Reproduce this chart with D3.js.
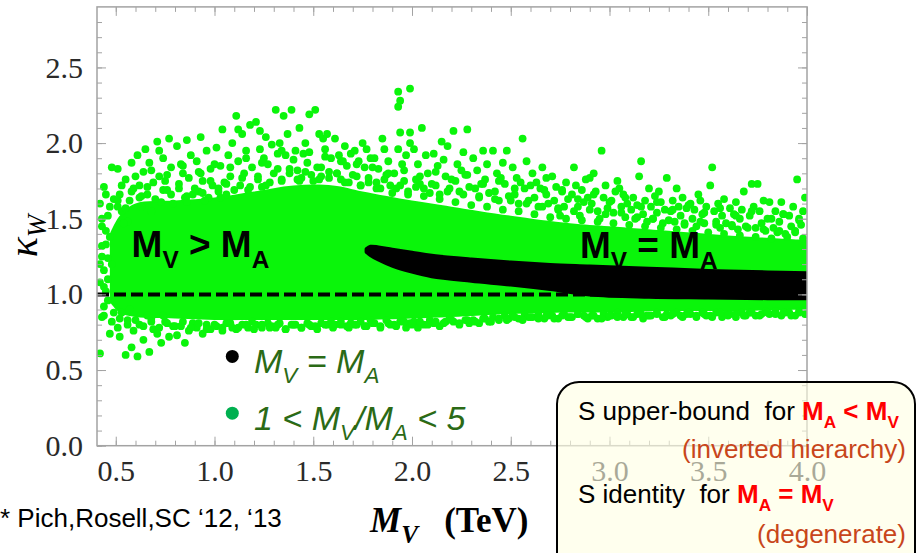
<!DOCTYPE html>
<html>
<head>
<meta charset="utf-8">
<script src="https://cdn.jsdelivr.net/npm/d3@7"></script>
<style>
  body { margin: 0; background: #fff; }
  svg { display: block; }
  text { white-space: pre; }
</style>
</head>
<body>
<div id="chart"></div>
<script>
// tick labels
const xTicks = [0.5, 1.0, 1.5, 2.0, 2.5, 3.0, 3.5, 4.0];
const yTicks = [0.0, 0.5, 1.0, 1.5, 2.0, 2.5];

// dense part of the 1 < MV/MA < 5 cloud (upper and lower edge)
const coreX  = [0.47, 0.52, 0.60, 0.80, 1.00, 1.20, 1.40, 1.60, 1.75, 2.00, 2.20, 2.50, 2.80, 3.00, 3.30, 3.60, 4.00];
const coreHi = [1.40, 1.52, 1.60, 1.62, 1.64, 1.68, 1.72, 1.72, 1.68, 1.62, 1.58, 1.52, 1.47, 1.45, 1.42, 1.39, 1.36];
const coreLo = [0.95, 0.88, 0.85, 0.84, 0.83, 0.83, 0.83, 0.83, 0.83, 0.84, 0.85, 0.87, 0.88, 0.88, 0.89, 0.89, 0.90];

// MV = MA points, a dense band
const bandX  = [1.77, 1.79, 1.83, 1.90, 2.00, 2.10, 2.30, 2.50, 2.70, 2.90, 3.20, 3.50, 3.80, 4.00];
const bandHi = [1.30, 1.315, 1.31, 1.295, 1.275, 1.255, 1.23, 1.21, 1.195, 1.185, 1.17, 1.155, 1.145, 1.14];
const bandLo = [1.28, 1.26, 1.23, 1.19, 1.15, 1.12, 1.09, 1.065, 1.035, 1.00, 0.985, 0.98, 0.975, 0.975];

// scattered green points, outer part of the cloud
const greenPts = [
  [0.42,1.60],[0.43,1.45],[0.44,1.71],[0.46,1.52],[0.47,1.38],[0.48,1.84],[0.49,1.63],[0.45,1.33],
  [0.42,0.61],[0.43,0.85],[0.44,0.92],[0.46,1.10],[0.47,0.74],[0.48,1.20],[0.49,0.88],[0.45,1.02],[0.43,1.25],
  [0.42,1.08],[0.44,1.16],[0.45,1.42],[0.46,0.96],[0.43,1.32],[0.42,1.20],[0.44,1.05],[0.46,1.24],
  [0.51,1.83],[0.52,1.66],[0.53,1.55],[0.55,1.76],[0.56,1.48],[0.57,1.62],[0.58,1.87],[0.59,1.70],[0.54,1.47],[0.51,1.58],
  [0.51,0.78],[0.52,0.72],[0.55,0.60],[0.56,0.83],[0.58,0.65],[0.53,0.88],[0.59,0.76],[0.57,0.90],
  [0.61,1.92],[0.62,1.72],[0.63,1.58],[0.64,1.81],[0.66,1.66],[0.67,1.87],[0.68,1.55],[0.69,1.74],[0.65,1.96],[0.63,1.65],
  [0.61,0.59],[0.62,0.80],[0.64,0.70],[0.66,0.86],[0.67,0.62],[0.69,0.77],[0.68,0.84],
  [0.71,2.01],[0.72,1.78],[0.73,1.61],[0.74,1.90],[0.76,1.69],[0.77,2.03],[0.78,1.84],[0.79,1.60],[0.75,1.75],[0.72,1.95],
  [0.71,0.74],[0.73,0.68],[0.75,0.82],[0.77,0.72],[0.79,0.79],[0.74,0.86],
  [0.81,1.98],[0.82,1.70],[0.83,1.86],[0.85,1.64],[0.86,2.02],[0.87,1.77],[0.88,1.92],[0.89,1.66],[0.84,1.80],[0.86,1.61],
  [0.81,0.73],[0.83,0.79],[0.85,0.68],[0.87,0.76],[0.89,0.81],
  [0.91,1.88],[0.92,1.68],[0.93,2.04],[0.94,1.75],[0.96,1.95],[0.97,1.64],[0.98,1.83],[0.99,1.72],[0.95,1.62],[0.93,1.80],
  [0.91,0.78],[0.94,0.74],[0.96,0.80],[0.98,0.77],
  [1.01,1.97],[1.02,1.70],[1.03,1.85],[1.04,2.09],[1.06,1.66],[1.07,1.92],[1.08,1.78],[1.09,2.00],[1.05,1.74],[1.03,1.64],
  [1.01,0.79],[1.04,0.76],[1.06,0.81],[1.09,0.78],
  [1.11,2.18],[1.12,1.88],[1.13,1.72],[1.14,2.06],[1.15,1.80],[1.16,1.95],[1.17,1.69],[1.18,2.12],[1.19,1.84],[1.12,2.09],
  [1.11,0.77],[1.14,0.80],[1.17,0.78],[1.19,0.82],
  [1.21,2.14],[1.22,1.78],[1.23,1.96],[1.24,1.71],[1.26,2.04],[1.27,1.86],[1.28,1.74],[1.29,1.99],[1.25,1.90],[1.23,2.08],
  [1.21,0.80],[1.24,0.78],[1.27,0.81],[1.29,0.79],
  [1.31,2.22],[1.32,1.83],[1.33,2.00],[1.34,1.76],[1.35,2.18],[1.36,1.92],[1.37,2.06],[1.38,1.80],[1.39,2.22],[1.34,1.95],
  [1.31,0.78],[1.33,0.81],[1.36,0.77],[1.39,0.80],
  [1.41,1.95],[1.42,1.82],[1.43,2.10],[1.44,1.77],[1.46,2.00],[1.47,1.87],[1.48,2.19],[1.49,1.79],[1.45,1.93],[1.43,1.75],
  [1.41,0.80],[1.44,0.78],[1.47,0.81],[1.49,0.79],
  [1.51,2.22],[1.52,1.84],[1.53,2.06],[1.54,1.78],[1.56,1.96],[1.57,2.06],[1.58,1.81],[1.59,1.90],[1.55,2.03],[1.53,1.76],
  [1.51,0.79],[1.54,0.81],[1.57,0.80],[1.59,0.82],
  [1.61,2.03],[1.62,1.80],[1.63,1.92],[1.64,1.76],[1.66,1.98],[1.67,1.85],[1.68,1.74],[1.69,1.93],[1.65,1.88],
  [1.61,0.80],[1.64,0.82],[1.67,0.79],[1.69,0.81],
  [1.71,1.95],[1.72,1.78],[1.73,1.88],[1.74,1.72],[1.76,1.84],[1.77,1.96],[1.78,1.74],[1.79,1.90],[1.75,2.00],
  [1.71,0.80],[1.74,0.82],[1.77,0.79],[1.79,0.83],
  [1.81,1.90],[1.82,1.74],[1.83,1.83],[1.84,1.70],[1.86,1.96],[1.87,1.79],[1.88,1.88],[1.89,1.72],[1.85,2.03],
  [1.81,0.81],[1.84,0.79],[1.87,0.83],[1.89,0.80],
  [1.93,2.34],[1.99,2.36],[1.93,2.24],[1.94,2.28],[1.94,2.07],[1.99,2.07],[1.99,2.00],[1.93,1.96],[1.91,1.80],[1.92,1.70],
  [1.95,1.86],[1.96,1.75],[1.97,1.92],[1.98,1.68],
  [1.91,0.80],[1.94,0.82],[1.97,0.78],[1.99,0.81],
  [2.01,1.96],[2.02,1.76],[2.03,1.86],[2.05,2.10],[2.06,1.70],[2.07,1.92],[2.08,1.80],[2.09,1.67],[2.04,1.73],
  [2.01,0.82],[2.03,0.78],[2.06,0.80],[2.09,0.83],
  [2.11,1.93],[2.12,1.72],[2.13,1.85],[2.14,1.66],[2.16,1.89],[2.17,1.78],[2.18,1.98],[2.19,1.70],[2.15,2.01],
  [2.11,0.81],[2.14,0.79],[2.17,0.82],[2.19,0.84],
  [2.21,2.08],[2.22,1.75],[2.23,1.86],[2.24,1.68],[2.26,1.94],[2.27,1.79],[2.28,2.09],[2.29,1.71],[2.25,1.82],
  [2.21,0.82],[2.24,0.80],[2.27,0.83],[2.29,0.81],
  [2.31,1.90],[2.32,1.70],[2.33,1.82],[2.34,1.64],[2.36,1.95],[2.37,1.76],[2.38,1.86],[2.39,1.67],[2.35,1.73],
  [2.31,0.83],[2.34,0.81],[2.37,0.84],[2.39,0.82],
  [2.41,1.95],[2.42,1.68],[2.43,1.80],[2.44,1.62],[2.46,1.87],[2.47,1.73],[2.48,1.95],[2.49,1.65],[2.45,1.77],
  [2.41,0.85],[2.44,0.83],[2.47,0.86],[2.49,0.84],
  [2.51,1.84],[2.52,1.66],[2.53,1.77],[2.54,1.60],[2.56,2.03],[2.57,1.70],[2.58,1.88],[2.59,1.62],[2.55,1.74],
  [2.51,0.86],[2.54,0.84],[2.57,0.87],[2.59,0.85],
  [2.61,1.80],[2.62,1.64],[2.63,1.74],[2.64,1.58],[2.66,1.84],[2.67,1.69],[2.68,1.77],[2.69,1.60],[2.65,1.70],
  [2.61,0.85],[2.64,0.87],[2.67,0.84],[2.69,0.86],
  [2.71,1.78],[2.72,1.62],[2.73,1.71],[2.74,1.56],[2.76,1.68],[2.77,1.58],[2.78,1.74],[2.79,1.63],[2.75,1.52],
  [2.71,0.86],[2.74,0.84],[2.77,0.87],[2.79,0.85],
  [2.82,1.84],[2.81,1.66],[2.83,1.72],[2.84,1.58],[2.86,1.69],[2.87,1.61],[2.88,1.76],[2.85,1.52],[2.89,1.64],
  [2.81,0.85],[2.84,0.87],[2.87,0.86],[2.89,0.84],
  [2.90,1.77],[2.92,1.80],[2.96,1.95],[2.91,1.60],[2.93,1.68],[2.94,1.55],[2.97,1.64],[2.98,1.72],[2.99,1.57],[2.95,1.50],
  [2.91,0.86],[2.94,0.84],[2.97,0.87],[2.99,0.85],
  [3.04,1.75],[3.01,1.62],[3.02,1.54],[3.03,1.68],[3.06,1.58],[3.07,1.66],[3.08,1.51],[3.09,1.60],[3.05,1.70],
  [3.01,0.86],[3.04,0.88],[3.07,0.85],[3.09,0.87],
  [3.16,1.88],[3.15,1.78],[3.20,1.70],[3.11,1.56],[3.12,1.64],[3.13,1.50],[3.14,1.59],[3.17,1.53],[3.18,1.62],[3.19,1.48],
  [3.11,0.85],[3.14,0.87],[3.17,0.84],[3.19,0.86],
  [3.29,1.77],[3.21,1.58],[3.22,1.50],[3.23,1.65],[3.24,1.54],[3.26,1.61],[3.27,1.47],[3.28,1.56],[3.25,1.68],
  [3.21,0.86],[3.24,0.88],[3.27,0.85],[3.29,0.87],
  [3.34,1.70],[3.31,1.55],[3.32,1.62],[3.33,1.48],[3.35,1.58],[3.36,1.52],[3.37,1.64],[3.38,1.46],[3.39,1.57],
  [3.31,0.86],[3.34,0.88],[3.37,0.85],[3.39,0.87],
  [3.41,1.60],[3.42,1.50],[3.43,1.56],[3.44,1.45],[3.46,1.62],[3.47,1.53],[3.48,1.47],[3.49,1.58],[3.45,1.66],
  [3.41,0.87],[3.44,0.85],[3.47,0.88],[3.49,0.86],
  [3.52,1.84],[3.51,1.72],[3.53,1.55],[3.54,1.48],[3.55,1.60],[3.56,1.44],[3.57,1.52],[3.58,1.63],[3.59,1.47],
  [3.51,0.86],[3.54,0.88],[3.57,0.85],[3.59,0.87],
  [3.68,1.68],[3.61,1.57],[3.62,1.46],[3.63,1.53],[3.64,1.61],[3.65,1.43],[3.66,1.50],[3.67,1.56],[3.69,1.45],
  [3.61,0.87],[3.64,0.85],[3.67,0.88],[3.69,0.86],
  [3.72,1.73],[3.75,1.73],[3.71,1.52],[3.73,1.58],[3.74,1.44],[3.76,1.55],[3.77,1.47],[3.78,1.62],[3.79,1.42],
  [3.71,0.88],[3.74,0.86],[3.77,0.87],[3.79,0.89],
  [3.81,1.61],[3.87,1.61],[3.82,1.50],[3.83,1.44],[3.84,1.55],[3.85,1.41],[3.86,1.48],[3.88,1.53],[3.89,1.40],
  [3.81,0.87],[3.84,0.89],[3.87,0.86],[3.89,0.88],
  [3.95,1.76],[3.99,1.64],[3.91,1.52],[3.92,1.45],[3.93,1.58],[3.94,1.42],[3.96,1.50],[3.97,1.46],[3.98,1.55],
  [3.91,0.88],[3.94,0.86],[3.96,0.89],[3.99,0.87]
];

// green points just outside the dense part (upper and lower rim)
const greenRim = [
  [0.43,1.50],[0.47,1.58],[0.51,1.62],[0.55,1.57],[0.58,1.68],[0.62,1.64],[0.66,1.71],[0.70,1.63],[0.74,1.69],[0.78,1.66],
  [0.82,1.73],[0.86,1.65],[0.90,1.70],[0.94,1.67],[0.98,1.75],[1.02,1.68],[1.06,1.73],[1.10,1.69],[1.14,1.77],[1.18,1.71],
  [1.22,1.76],[1.26,1.72],[1.30,1.80],[1.34,1.75],[1.38,1.83],[1.42,1.76],[1.46,1.81],[1.50,1.75],[1.54,1.84],[1.58,1.77],
  [1.62,1.80],[1.66,1.74],[1.70,1.79],[1.74,1.72],[1.78,1.77],[1.82,1.70],[1.86,1.76],[1.90,1.67],[1.94,1.72],[1.98,1.66],
  [2.02,1.71],[2.06,1.65],[2.10,1.73],[2.14,1.63],[2.18,1.68],[2.22,1.61],[2.26,1.66],[2.30,1.59],[2.34,1.65],[2.38,1.58],
  [2.42,1.63],[2.46,1.56],[2.50,1.62],[2.54,1.55],[2.58,1.60],[2.62,1.53],[2.66,1.58],[2.70,1.51],[2.74,1.57],[2.78,1.50],
  [2.82,1.55],[2.86,1.49],[2.90,1.56],[2.94,1.48],[2.98,1.53],[3.02,1.47],[3.06,1.54],[3.10,1.46],[3.14,1.51],[3.18,1.45],
  [3.22,1.50],[3.26,1.44],[3.30,1.49],[3.34,1.43],[3.38,1.47],[3.42,1.42],[3.46,1.48],[3.50,1.41],[3.54,1.46],[3.58,1.40],
  [3.62,1.45],[3.66,1.39],[3.70,1.44],[3.74,1.38],[3.78,1.43],[3.82,1.37],[3.86,1.42],[3.90,1.38],[3.94,1.41],[3.98,1.37],
  [0.45,1.66],[0.53,1.72],[0.60,1.78],[0.68,1.82],[0.76,1.79],[0.84,1.85],[0.92,1.81],[1.00,1.86],[1.08,1.84],[1.16,1.90],
  [1.24,1.87],[1.32,1.93],[1.40,1.89],[1.48,1.94],[1.56,1.91],[1.64,1.88],[1.72,1.86],[1.80,1.84],[1.88,1.80],[1.96,1.82],
  [2.04,1.78],[2.12,1.81],[2.20,1.76],[2.28,1.79],[2.36,1.73],[2.44,1.75],[2.52,1.70],[2.60,1.72],[2.68,1.66],[2.76,1.69],
  [2.84,1.63],[2.92,1.66],[3.00,1.61],[3.08,1.64],[3.16,1.58],[3.24,1.61],[3.32,1.56],[3.40,1.59],[3.48,1.54],[3.56,1.57],
  [3.64,1.52],[3.72,1.55],[3.80,1.50],[3.88,1.53],[3.96,1.49],
  [0.44,0.86],[0.48,0.82],[0.52,0.84],[0.56,0.80],[0.60,0.83],[0.64,0.79],[0.68,0.82],[0.72,0.78],[0.76,0.81],[0.80,0.79],
  [0.84,0.82],[0.88,0.78],[0.92,0.81],[0.96,0.77],[1.00,0.80],[1.04,0.78],[1.08,0.81],[1.12,0.78],[1.16,0.80],[1.20,0.77],
  [1.24,0.80],[1.28,0.78],[1.32,0.80],[1.36,0.77],[1.40,0.80],[1.44,0.78],[1.48,0.80],[1.52,0.77],[1.56,0.80],[1.60,0.78],
  [1.64,0.80],[1.68,0.78],[1.72,0.80],[1.76,0.79],[1.80,0.81],[1.84,0.78],[1.88,0.81],[1.92,0.79],[1.96,0.82],[2.00,0.80],
  [2.04,0.82],[2.08,0.80],[2.12,0.82],[2.16,0.81],[2.20,0.83],[2.24,0.81],[2.28,0.83],[2.32,0.82],[2.36,0.84],[2.40,0.82],
  [2.44,0.84],[2.48,0.83],[2.52,0.85],[2.56,0.83],[2.60,0.85],[2.64,0.84],[2.68,0.86],[2.72,0.84],[2.76,0.86],[2.80,0.85],
  [2.84,0.87],[2.88,0.85],[2.92,0.86],[2.96,0.84],[3.00,0.86],[3.04,0.85],[3.08,0.87],[3.12,0.85],[3.16,0.87],[3.20,0.86],
  [3.24,0.87],[3.28,0.85],[3.32,0.87],[3.36,0.86],[3.40,0.88],[3.44,0.86],[3.48,0.87],[3.52,0.85],[3.56,0.88],[3.60,0.86],
  [3.64,0.87],[3.68,0.86],[3.72,0.88],[3.76,0.86],[3.80,0.88],[3.84,0.87],[3.88,0.88],[3.92,0.86],[3.96,0.88],[4.00,0.87]
];

const refLevel = 1.0;

const width = 917;
const height = 553;

const svg = d3.select("#chart")
    .append("svg")
    .attr("width", width)
    .attr("height", height);

const x = d3.scaleLinear().domain([0.405, 4.0]).range([97, 807]);
const y = d3.scaleLinear().domain([0, 2.9]).range([445.7, 6.9]);

const green = "#0af50a";
const frameColor = "#a3a3a3";

svg.append("defs").append("clipPath").attr("id", "plot")
  .append("rect")
    .attr("x", x.range()[0]).attr("y", y.range()[1])
    .attr("width", x.range()[1] - x.range()[0])
    .attr("height", y.range()[0] - y.range()[1]);

// text with subscripts
function rich(g, px, py, size, parts, subRatio = 0.66) {
  const t = g.append("text").attr("x", px).attr("y", py).style("font-size", size + "px");
  let down = 0;
  parts.forEach(p => {
    const shift = p.sub ? size * 0.3 : 0;
    const s = t.append("tspan").text(p.t).attr("dy", shift - down);
    down = shift;
    if (p.sub) s.style("font-size", (size * subRatio) + "px");
    if (p.fill) s.attr("fill", p.fill);
    if (p.bold) s.style("font-weight", "bold");
    if (p.italic) s.style("font-style", "italic");
  });
  return t;
}

function points(g) {
  g.attr("clip-path", "url(#plot)");

  const core = coreX.map((v, i) => [v, coreHi[i], coreLo[i]]);
  g.append("path")
    .datum(core)
    .attr("fill", green)
    .attr("d", d3.area()
      .x(d => x(d[0])).y0(d => y(d[2])).y1(d => y(d[1]))
      .curve(d3.curveCatmullRom));

  g.append("g")
    .attr("fill", green)
    .selectAll("circle")
    .data(greenPts.concat(greenRim))
    .join("circle")
      .attr("cx", d => x(d[0]))
      .attr("cy", d => y(d[1]))
      .attr("r", 3.9);

  g.append("line")
    .attr("x1", x.range()[0]).attr("x2", x.range()[1])
    .attr("y1", y(refLevel)).attr("y2", y(refLevel))
    .attr("stroke", "#000")
    .attr("stroke-width", 4)
    .attr("stroke-dasharray", "12 5");

  const band = bandX.map((v, i) => [v, bandHi[i], bandLo[i]]);
  g.append("path")
    .datum(band)
    .attr("fill", "#000")
    .attr("stroke", "#000")
    .attr("stroke-width", 4)
    .attr("stroke-linejoin", "round")
    .attr("d", d3.area()
      .x(d => x(d[0])).y0(d => y(d[2])).y1(d => y(d[1]))
      .curve(d3.curveCatmullRom));
}

function axes(g) {
  const minorX = d3.range(5, 41).map(d => d / 10);
  const minorY = d3.range(0, 29).map(d => d / 10);
  const x0 = x.range()[0], x1 = x.range()[1];
  const y0 = y.range()[0], y1 = y.range()[1];

  const parts = [
    [d3.axisBottom(x).tickValues(xTicks), `translate(0,${y0})`, true],
    [d3.axisTop(x).tickValues(xTicks), `translate(0,${y1})`, false],
    [d3.axisLeft(y).tickValues(yTicks), `translate(${x0},0)`, true],
    [d3.axisRight(y).tickValues(yTicks), `translate(${x1},0)`, false]
  ];
  parts.forEach(([ax, tr, labels]) => {
    const a = g.append("g").attr("transform", tr)
      .call(ax.tickSizeInner(-9).tickSizeOuter(0).tickPadding(labels ? 14 : 0)
        .tickFormat(labels ? d3.format(".1f") : ""));
    a.select(".domain").remove();
    a.selectAll("line").attr("stroke", frameColor);
    a.selectAll("text")
      .attr("fill", "#2a2a2a")
      .style("font-family", "'Liberation Serif', 'Times New Roman', serif")
      .style("font-size", "30px");
  });

  const minors = [
    [d3.axisBottom(x).tickValues(minorX), `translate(0,${y0})`],
    [d3.axisTop(x).tickValues(minorX), `translate(0,${y1})`],
    [d3.axisLeft(y).tickValues(minorY), `translate(${x0},0)`],
    [d3.axisRight(y).tickValues(minorY), `translate(${x1},0)`]
  ];
  minors.forEach(([ax, tr]) => {
    const a = g.append("g").attr("transform", tr)
      .call(ax.tickSizeInner(-5).tickSizeOuter(0).tickFormat(""));
    a.select(".domain").remove();
    a.selectAll("line").attr("stroke", frameColor);
  });

  g.append("rect")
    .attr("x", x0).attr("y", y1)
    .attr("width", x1 - x0).attr("height", y0 - y1)
    .attr("fill", "none")
    .attr("stroke", frameColor)
    .attr("stroke-width", 1.5);
}

function axisLabels(g) {
  const yl = g.append("text")
    .attr("transform", "translate(37,236) rotate(-90)")
    .attr("text-anchor", "middle")
    .style("font-family", "'Liberation Serif', 'Times New Roman', serif")
    .style("font-style", "italic")
    .style("font-size", "42px");
  yl.append("tspan").text("κ");
  yl.append("tspan").text("W").attr("dy", 9).style("font-size", "27px");

  const xl = rich(g, 370, 532, 35, [
    { t: "M", italic: true },
    { t: "V", italic: true, sub: true },
    { t: "   (TeV)" }
  ], 0.72);
  xl.style("font-family", "'Liberation Serif', 'Times New Roman', serif")
    .style("font-weight", "bold");
}

function annotations(g) {
  const ann1 = rich(g, x(0.58), y(1.25), 37, [
    { t: "M" }, { t: "V", sub: true }, { t: " > M" }, { t: "A", sub: true }
  ]);
  const ann2 = rich(g, x(2.85), y(1.24), 37, [
    { t: "M" }, { t: "V", sub: true }, { t: " = M" }, { t: "A", sub: true }
  ]);
  [ann1, ann2].forEach(t => t
    .style("font-family", "'Liberation Sans', Arial, sans-serif")
    .style("font-weight", "bold")
    .attr("fill", "#000"));
}

function legend(g) {
  const textColor = "#2b6a16";
  g.append("circle").attr("cx", x(1.09)).attr("cy", y(0.59)).attr("r", 6.5).attr("fill", "#000");
  g.append("circle").attr("cx", x(1.09)).attr("cy", y(0.215)).attr("r", 6.5).attr("fill", "#00b050");

  const l1 = rich(g, x(1.2), y(0.48), 34, [
    { t: "M" }, { t: "V", sub: true }, { t: " = M" }, { t: "A", sub: true }
  ]);
  const l2 = rich(g, x(1.2), y(0.105), 34, [
    { t: "1 < M" }, { t: "V", sub: true }, { t: "/M" }, { t: "A", sub: true }, { t: " < 5" }
  ]);
  [l1, l2].forEach(t => t
    .style("font-family", "'Liberation Sans', Arial, sans-serif")
    .style("font-style", "italic")
    .attr("fill", textColor));
}

function noteBox(g) {
  const red = "#ff0000";
  const rust = "#c8461b";
  g.append("rect")
    .attr("x", 557).attr("y", 382)
    .attr("width", 358).attr("height", 200)
    .attr("rx", 22).attr("ry", 22)
    .attr("fill", "rgb(255,255,226)")
    .attr("fill-opacity", 0.6)
    .attr("stroke", "#000")
    .attr("stroke-width", 2);

  const font = "'Liberation Sans', Arial, sans-serif";
  const t1 = rich(g, 578, 420, 26, [
    { t: "S upper-bound  for " },
    { t: "M", fill: red, bold: true }, { t: "A", fill: red, bold: true, sub: true },
    { t: " < ", fill: red, bold: true },
    { t: "M", fill: red, bold: true }, { t: "V", fill: red, bold: true, sub: true }
  ]);
  const t2 = g.append("text").attr("x", 906).attr("y", 458)
    .attr("text-anchor", "end").attr("fill", rust)
    .style("font-size", "26px").text("(inverted hierarchy)");
  const t3 = rich(g, 578, 503, 26, [
    { t: "S identity  for " },
    { t: "M", fill: red, bold: true }, { t: "A", fill: red, bold: true, sub: true },
    { t: " = ", fill: red, bold: true },
    { t: "M", fill: red, bold: true }, { t: "V", fill: red, bold: true, sub: true }
  ]);
  const t4 = g.append("text").attr("x", 906).attr("y", 543)
    .attr("text-anchor", "end").attr("fill", rust)
    .style("font-size", "26px").text("(degenerate)");
  [t1, t2, t3, t4].forEach(t => t.style("font-family", font));
}

function footnote(g) {
  g.append("text")
    .attr("x", 0).attr("y", 527)
    .style("font-family", "'Liberation Sans', Arial, sans-serif")
    .style("font-size", "26px")
    .attr("fill", "#000")
    .text("* Pich,Rosell,SC \u201812, \u201813");
}

svg.append("g").call(points);
svg.append("g").call(axes);
svg.append("g").call(annotations);
svg.append("g").call(legend);
svg.append("g").call(axisLabels);
svg.append("g").call(noteBox);
svg.append("g").call(footnote);
</script>
</body>
</html>
